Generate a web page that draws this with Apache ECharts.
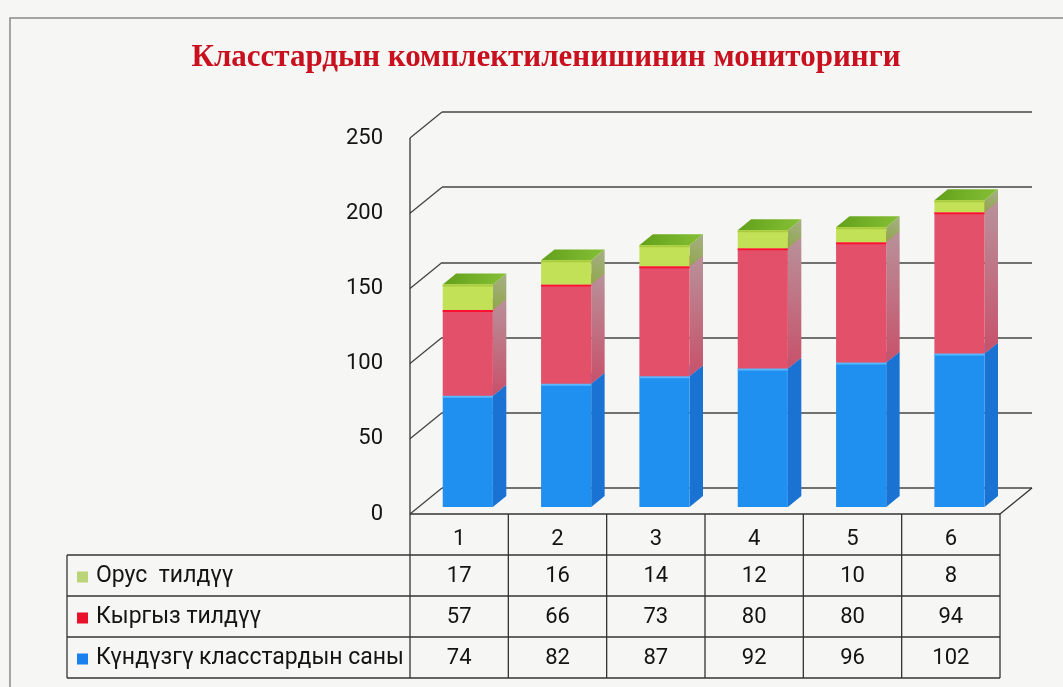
<!DOCTYPE html>
<html>
<head>
<meta charset="utf-8">
<script src="https://cdn.jsdelivr.net/npm/echarts@6/dist/echarts.min.js"></script>
<style>
html,body{margin:0;padding:0;background:#f6f6f4;}
#chart{width:1063px;height:687px;}
</style>
</head>
<body>
<div id="chart"></div>
<script>
// ---- data ----
const categories = ['1', '2', '3', '4', '5', '6'];
const russianLang = [17, 16, 14, 12, 10, 8];
const kyrgyzLang = [57, 66, 73, 80, 80, 94];
const dayClasses = [74, 82, 87, 92, 96, 102];
const seriesNames = ['Орус  тилдүү', 'Кыргыз тилдүү', 'Күндүзгү класстардын саны'];
const yTicks = [0, 50, 100, 150, 200, 250];
const titleText = 'Класстардын комплектиленишинин мониторинги';

// ---- layout ----
const GL = 410, GT = 138, GW = 590, GH = 376;   // front plane
const DX = 32, DY = -26;                          // depth vector
const F1 = 0.27, F2 = 0.69;                       // bar depth band
const BAR_W = 0.51;
const ROW_TOP = 555, ROW_H = 41;
const TABLE_LEFT = 67;
const FONT = "Roboto, 'Liberation Sans', sans-serif";

const colors = {
  blue:  {front: '#1f8ff0', side: '#1a72d2', top: '#3aa0f5', edge: '#5ab8ff'},
  red:   {front: '#e2506a', side: ['#c8506a', '#b8929a'], top: '#d04060', edge: '#ff1030'},
  green: {front: '#c2e157', side: ['#8ea84a', '#a8ae88'], top: ['#62a01a', '#86c036'], edge: '#a8cc3c'}
};

// stacked bases
const stackOrder = [dayClasses, kyrgyzLang, russianLang];
const bases = [];
{
  let acc = categories.map(() => 0);
  stackOrder.forEach((arr, k) => {
    bases[k] = acc.slice();
    acc = acc.map((a, i) => a + arr[i]);
  });
}

function grad(c, x1, y1, x2, y2) {
  if (!Array.isArray(c)) return c;
  return new echarts.graphic.LinearGradient(x1, y1, x2, y2, [{offset: 0, color: c[0]}, {offset: 1, color: c[1]}]);
}

function barRender(col) {
  return function (params, api) {
    const ci = api.value(0), base = api.value(1), top = base + api.value(2);
    const cb = api.coord([ci, base]);
    const ct = api.coord([ci, top]);
    const band = api.size([1, 0])[0];
    const w = band * BAR_W;
    const ox = DX * F1, oy = DY * F1;
    const sx = DX * (F2 - F1), sy = DY * (F2 - F1);
    const x0 = cb[0] - w / 2 + ox, x1 = cb[0] + w / 2 + ox;
    const yb = cb[1] + oy, yt = ct[1] + oy;
    return {
      type: 'group',
      children: [
        {type: 'polygon', shape: {points: [[x1, yb], [x1, yt], [x1 + sx, yt + sy], [x1 + sx, yb + sy]]},
         style: {fill: grad(col.side, 0, 1, 1, 0)}},
        {type: 'polygon', shape: {points: [[x0, yt], [x1, yt], [x1 + sx, yt + sy], [x0 + sx, yt + sy]]},
         style: {fill: grad(col.top, 0, 0, 1, 1)}},
        {type: 'rect', shape: {x: x0, y: yt, width: w, height: yb - yt},
         style: {fill: col.front}},
        {type: 'line', shape: {x1: x0, y1: yt + 1, x2: x1, y2: yt + 1},
         style: {stroke: col.edge, lineWidth: 2}}
      ]
    };
  };
}

function barData(k) {
  return stackOrder[k].map((v, i) => [i, bases[k][i], v]);
}

// wall diagonals
function wallRender(params, api) {
  const v = api.value(0);
  const p = api.coord([0, v]);
  const x0 = params.coordSys.x;
  return {type: 'line', shape: {x1: x0, y1: p[1], x2: x0 + DX, y2: p[1] + DY},
          style: {stroke: '#444', lineWidth: 1.3}};
}

// table values
const tableRows = [russianLang, kyrgyzLang, dayClasses];
const tableData = [];
tableRows.forEach((arr, r) => arr.forEach((v, i) => tableData.push([i, r, v])));
function tableRender(params, api) {
  const i = api.value(0), r = api.value(1), v = api.value(2);
  const x = api.coord([i, 0])[0];
  return {type: 'text', x: x, y: ROW_TOP + ROW_H * r + ROW_H / 2 + 1,
          style: {text: String(v), fill: '#141414', font: '22px ' + FONT, align: 'center', verticalAlign: 'middle'}};
}

// static graphics: table grid, row labels, border
const gfx = [];
const line = (x1, y1, x2, y2, w) => gfx.push({type: 'line', shape: {x1, y1, x2, y2}, style: {stroke: '#333', lineWidth: w || 1.3}, z: 10});
gfx.push({type: 'rect', shape: {x: 10, y: 18, width: 1100, height: 720}, style: {fill: null, stroke: '#8a8a8a', lineWidth: 1.5}});
const GB = GT + GH;
line(GL, GT, GL, GB);                       // front left edge
line(GL, GB, GL + GW, GB, 1.5);             // floor front edge / table top
line(GL + GW, GB, GL + GW + DX, GB + DY);   // floor right diagonal
const colW = GW / categories.length;
for (let k = 0; k <= categories.length; k++) line(GL + k * colW, GB, GL + k * colW, ROW_TOP + 3 * ROW_H);
for (let r = 0; r <= 3; r++) line(TABLE_LEFT, ROW_TOP + r * ROW_H, GL + GW, ROW_TOP + r * ROW_H);
line(TABLE_LEFT, ROW_TOP, TABLE_LEFT, ROW_TOP + 3 * ROW_H);
const legendColors = ['#bcd478', '#e8102a', '#1a80ee'];
seriesNames.forEach((name, r) => {
  const cy = ROW_TOP + r * ROW_H + ROW_H / 2 + 1;
  gfx.push({type: 'rect', shape: {x: 77, y: cy - 5, width: 11, height: 11}, style: {fill: legendColors[r]}, z: 10});
  gfx.push({type: 'text', x: 96, y: cy, style: {text: name, fill: '#141414', font: '23px ' + FONT, verticalAlign: 'middle'}, z: 10});
});

const chart = echarts.init(document.getElementById('chart'), null, {renderer: 'canvas'});
chart.setOption({
  backgroundColor: '#f6f6f4',
  animation: false,
  title: {
    text: titleText, left: 541, top: 37, textAlign: 'center',
    textStyle: {fontFamily: "'Liberation Serif', 'DejaVu Serif', serif", fontWeight: 'bold', fontSize: 31, color: '#c8101e'}
  },
  grid: [
    {left: GL, top: GT, width: GW, height: GH},
    {left: GL + DX, top: GT + DY, width: GW, height: GH}
  ],
  xAxis: [
    {type: 'category', data: categories, gridIndex: 0,
     axisLine: {show: false}, axisTick: {show: false},
     axisLabel: {margin: 14, fontSize: 22, color: '#141414', fontFamily: FONT}},
    {type: 'category', data: categories, gridIndex: 1, show: false}
  ],
  yAxis: [
    {type: 'value', min: 0, max: 250, interval: 50, gridIndex: 0,
     axisLine: {show: false}, axisTick: {show: false}, splitLine: {show: false},
     axisLabel: {margin: 27, fontSize: 22, color: '#141414', fontFamily: FONT}},
    {type: 'value', min: 0, max: 250, interval: 50, gridIndex: 1,
     axisLine: {show: false}, axisTick: {show: false}, axisLabel: {show: false},
     splitLine: {show: true, lineStyle: {color: '#444', width: 1.5}}}
  ],
  graphic: gfx,
  series: [
    {type: 'custom', name: 'wall', xAxisIndex: 0, yAxisIndex: 0, renderItem: wallRender,
     data: yTicks.map(v => [v]), encode: {y: 0}, clip: false, silent: true, z: 1},
    {type: 'custom', name: seriesNames[2], renderItem: barRender(colors.blue), data: barData(0),
     encode: {x: 0, y: 1}, clip: false, z: 2},
    {type: 'custom', name: seriesNames[1], renderItem: barRender(colors.red), data: barData(1),
     encode: {x: 0, y: 1}, clip: false, z: 2},
    {type: 'custom', name: seriesNames[0], renderItem: barRender(colors.green), data: barData(2),
     encode: {x: 0, y: 1}, clip: false, z: 2},
    {type: 'custom', name: 'table', renderItem: tableRender, data: tableData,
     encode: {x: 0}, clip: false, silent: true, z: 3}
  ]
});
</script>
</body>
</html>
